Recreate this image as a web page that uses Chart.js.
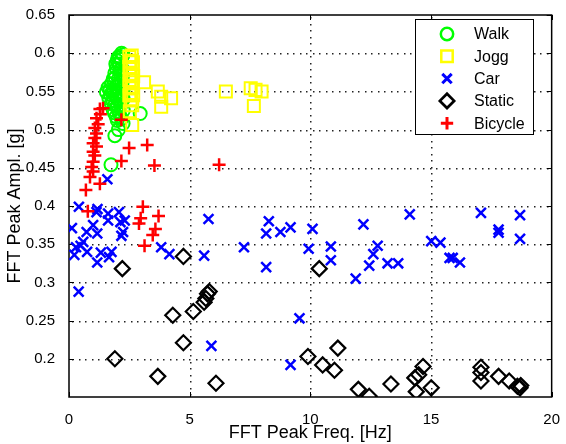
<!DOCTYPE html>
<html>
<head>
<meta charset="utf-8">
<script src="https://cdn.jsdelivr.net/npm/chart.js@4"></script>
<style>
  html, body { margin: 0; padding: 0; background: #fff; }
  #wrap { width: 566px; height: 444px; }
</style>
</head>
<body>
<div id="wrap"><canvas id="chart" width="566" height="444"></canvas></div>
<script>
// ── Data: [peak freq (Hz), peak ampl (g)] per window ─────────────────────────

const walk = [
  [2.24, 0.598], [2.17, 0.592], [2.10, 0.586], [2.03, 0.594], [1.97, 0.580],
  [2.20, 0.580], [1.90, 0.574], [2.15, 0.572], [1.83, 0.566], [2.05, 0.566],
  [1.76, 0.560], [2.20, 0.562], [1.62, 0.555], [1.95, 0.556], [2.25, 0.553],
  [1.55, 0.549], [1.80, 0.548], [2.10, 0.547], [1.65, 0.541], [2.00, 0.540],
  [2.25, 0.540], [1.75, 0.534], [1.90, 0.532], [2.15, 0.532], [1.83, 0.526],
  [2.05, 0.524], [2.25, 0.525], [1.95, 0.517], [2.17, 0.514], [2.95, 0.521],
  [2.24, 0.508], [2.05, 0.500], [1.90, 0.492], [1.74, 0.454],
  [2.00, 0.590], [2.12, 0.578], [1.92, 0.568], [2.08, 0.558], [1.86, 0.552],
  [2.02, 0.550], [1.72, 0.546], [1.96, 0.544], [2.12, 0.538], [1.82, 0.538],
  [2.00, 0.530], [1.88, 0.522], [2.10, 0.520], [2.00, 0.512], [1.70, 0.552],
  [2.18, 0.600], [2.08, 0.596], [1.94, 0.586], [2.22, 0.570], [2.22, 0.546],
];

const jogg = [
  [2.50, 0.595], [2.60, 0.597], [2.55, 0.590], [2.65, 0.588], [2.50, 0.582],
  [2.62, 0.580], [2.55, 0.573], [2.66, 0.570], [2.50, 0.565], [2.60, 0.562],
  [2.52, 0.556], [2.65, 0.555], [2.58, 0.548], [2.50, 0.545], [2.66, 0.545],
  [2.55, 0.538], [2.62, 0.532], [2.52, 0.524], [2.62, 0.506], [3.11, 0.562],
  [3.68, 0.550], [3.82, 0.543], [4.23, 0.541], [3.82, 0.530], [6.50, 0.550],
  [7.53, 0.554], [7.73, 0.552], [7.98, 0.550], [7.66, 0.531],
];

const car = [
  [0.41, 0.399], [0.12, 0.371], [0.29, 0.346], [0.22, 0.336], [0.48, 0.348],
  [0.59, 0.353], [0.75, 0.340], [0.73, 0.366], [1.00, 0.375], [1.17, 0.364],
  [1.14, 0.392], [1.18, 0.396], [1.62, 0.390], [1.62, 0.381], [1.17, 0.326],
  [1.32, 0.339], [1.66, 0.333], [1.76, 0.340], [2.07, 0.392], [2.13, 0.379],
  [2.31, 0.381], [2.17, 0.361], [2.24, 0.366], [0.40, 0.288], [1.59, 0.435],
  [3.82, 0.346], [4.16, 0.337], [5.78, 0.383], [5.60, 0.335], [5.90, 0.217],
  [7.25, 0.346], [8.17, 0.364], [8.28, 0.380], [8.17, 0.320], [8.76, 0.366],
  [9.18, 0.372], [9.55, 0.253], [9.18, 0.192], [9.93, 0.344], [10.09, 0.370],
  [10.85, 0.347], [10.85, 0.329], [11.88, 0.305], [12.20, 0.376], [12.44, 0.322],
  [12.61, 0.337], [12.79, 0.348], [13.20, 0.325], [13.64, 0.325], [14.12, 0.389],
  [15.01, 0.354], [15.39, 0.352], [15.77, 0.332], [15.90, 0.332], [16.20, 0.326],
  [17.07, 0.391], [17.80, 0.369], [17.80, 0.365], [18.69, 0.388], [18.69, 0.357],
];

const stat = [
  [2.21, 0.318], [4.74, 0.334], [1.90, 0.200], [4.30, 0.257], [5.15, 0.262],
  [5.60, 0.274], [5.67, 0.279], [5.74, 0.285], [5.81, 0.288], [4.74, 0.221],
  [3.68, 0.177], [6.09, 0.168], [10.37, 0.318], [9.90, 0.203], [10.51, 0.192],
  [11.00, 0.185], [11.14, 0.214], [11.99, 0.160], [12.44, 0.151], [13.34, 0.167],
  [14.39, 0.157], [14.33, 0.175], [14.49, 0.179], [14.67, 0.190], [15.01, 0.162],
  [17.07, 0.189], [17.07, 0.182], [17.07, 0.171], [17.80, 0.177], [18.24, 0.171],
  [18.58, 0.164], [18.69, 0.162], [18.72, 0.165],
];

const bicycle = [
  [1.41, 0.528], [1.28, 0.527], [1.30, 0.520], [1.14, 0.515], [1.21, 0.507],
  [1.07, 0.502], [1.14, 0.495], [1.07, 0.489], [1.00, 0.482], [1.14, 0.478],
  [1.00, 0.471], [1.07, 0.466], [1.00, 0.458], [0.94, 0.451], [1.00, 0.445],
  [0.87, 0.438], [1.28, 0.429], [0.70, 0.421], [2.17, 0.513], [2.49, 0.476],
  [3.24, 0.480], [2.17, 0.459], [3.54, 0.453], [6.22, 0.454], [0.78, 0.393],
  [3.06, 0.399], [2.97, 0.384], [2.90, 0.377], [3.71, 0.387], [3.58, 0.370],
  [3.47, 0.362], [3.13, 0.348],
];

const xTicks = [0, 5, 10, 15, 20];
const yTicks = [0.2, 0.25, 0.3, 0.35, 0.4, 0.45, 0.5, 0.55, 0.6, 0.65];

// ── Styling ───────────────────────────────────────────────────────────────────

const FONT = "'Liberation Sans', Arial, Helvetica, sans-serif";

const STYLES = [
  { label: "Walk",    data: walk,    color: "#00ff00", style: "circle",   radius: 6.5, width: 2 },
  { label: "Jogg",    data: jogg,    color: "#ffff00", style: "rect",     radius: 8.5, width: 2 },
  { label: "Car",     data: car,     color: "#0000ff", style: "crossRot", radius: 7,   width: 2.5 },
  { label: "Static",  data: stat,    color: "#000000", style: "rectRot",  radius: 7.5, width: 2.2 },
  { label: "Bicycle", data: bicycle, color: "#ff0000", style: "cross",    radius: 6.5, width: 2.5 },
];

const datasets = STYLES.map((s, i) => ({
  label: s.label,
  data: s.data.map(([x, y]) => ({ x, y })),
  pointStyle: s.style,
  pointRadius: s.radius,
  pointHoverRadius: s.radius,
  pointBorderWidth: s.width,
  pointBorderColor: s.color,
  pointBackgroundColor: "rgba(0,0,0,0)",
  order: STYLES.length - i,   // later series end up on top
}));

// dotted grid, box around the plot and inward tick marks on all four sides
const frame = {
  id: "frame",
  beforeDatasetsDraw(chart) {
    const { ctx, chartArea: a, scales: { x, y } } = chart;
    const L = 5;
    ctx.save();

    // grid: small dots every ~6.5px
    ctx.fillStyle = "#222";
    xTicks.slice(1, -1).forEach(v => {
      const px = Math.round(x.getPixelForValue(v));
      for (let py = a.bottom - 3; py > a.top; py -= 6.5) ctx.fillRect(px, Math.round(py), 1.5, 1.5);
    });
    yTicks.slice(0, -1).forEach(v => {
      const py = Math.round(y.getPixelForValue(v));
      for (let px = a.left + 3; px < a.right; px += 6.5) ctx.fillRect(Math.round(px), py, 1.5, 1.5);
    });

    ctx.strokeStyle = "#000";
    ctx.lineWidth = 1;
    ctx.beginPath();
    xTicks.forEach(v => {
      const px = Math.round(x.getPixelForValue(v)) + 0.5;
      ctx.moveTo(px, a.bottom); ctx.lineTo(px, a.bottom - L);
      ctx.moveTo(px, a.top);    ctx.lineTo(px, a.top + L);
    });
    yTicks.forEach(v => {
      const py = Math.round(y.getPixelForValue(v)) + 0.5;
      ctx.moveTo(a.left, py);  ctx.lineTo(a.left + L, py);
      ctx.moveTo(a.right, py); ctx.lineTo(a.right - L, py);
    });
    ctx.stroke();
    ctx.lineWidth = 1.5;
    ctx.strokeRect(a.left, a.top, a.right - a.left, a.bottom - a.top);
    ctx.restore();
  },
};

// boxed legend in the top-right corner
const boxLegend = {
  id: "boxLegend",
  afterDatasetsDraw(chart) {
    const ctx = chart.ctx;
    const x0 = 415, y0 = 19, w = 118, h = 115, rowH = 22.3;
    ctx.save();
    ctx.fillStyle = "#fff";
    ctx.fillRect(x0, y0, w, h);
    ctx.strokeStyle = "#000";
    ctx.lineWidth = 1;
    ctx.strokeRect(x0 + 0.5, y0 + 0.5, w, h);
    ctx.font = "16px " + FONT;
    ctx.textBaseline = "middle";
    ctx.textAlign = "left";
    STYLES.forEach((s, i) => {
      const cy = y0 + 15 + i * rowH;
      ctx.fillStyle = "rgba(0,0,0,0)";
      ctx.strokeStyle = s.color;
      ctx.lineWidth = s.width + 0.5;
      Chart.helpers.drawPoint(ctx, {
        pointStyle: s.style,
        radius: s.radius * 0.95,
        rotation: 0,
        borderWidth: s.width + 0.5,
      }, 447, cy);
      ctx.fillStyle = "#000";
      ctx.fillText(s.label, 474, cy + 1);
    });
    ctx.restore();
  },
};

new Chart(document.getElementById("chart").getContext("2d"), {
  type: "scatter",
  data: { datasets },
  options: {
    responsive: false,
    animation: false,
    devicePixelRatio: 1,
    layout: { padding: { left: 0, right: 12, top: 14, bottom: 0 } },
    plugins: { legend: { display: false }, tooltip: { enabled: false } },
    scales: {
      x: {
        type: "linear", min: 0, max: 20,
        afterFit: s => { s.height = 47; },
        afterBuildTicks: s => { s.ticks = xTicks.map(value => ({ value })); },
        ticks: { color: "#000", padding: 6, font: { family: FONT, size: 15 } },
        grid: { display: false },
        border: { display: false },
        title: { display: true, text: "FFT Peak Freq. [Hz]", color: "#000",
                 font: { family: FONT, size: 18 }, padding: { top: 0, bottom: 0 } },
      },
      y: {
        type: "linear", min: 0.15, max: 0.65,
        afterFit: s => { s.width = 69; },
        afterBuildTicks: s => { s.ticks = yTicks.map(value => ({ value })); },
        ticks: { color: "#000", padding: 6, font: { family: FONT, size: 15 },
                 callback: v => String(Math.round(v * 100) / 100) },
        grid: { display: false },
        border: { display: false },
        title: { display: true, text: "FFT Peak Ampl. [g]", color: "#000",
                 font: { family: FONT, size: 18 }, padding: { top: 4, bottom: 0 } },
      },
    },
  },
  plugins: [frame, boxLegend],
});
</script>
</body>
</html>
